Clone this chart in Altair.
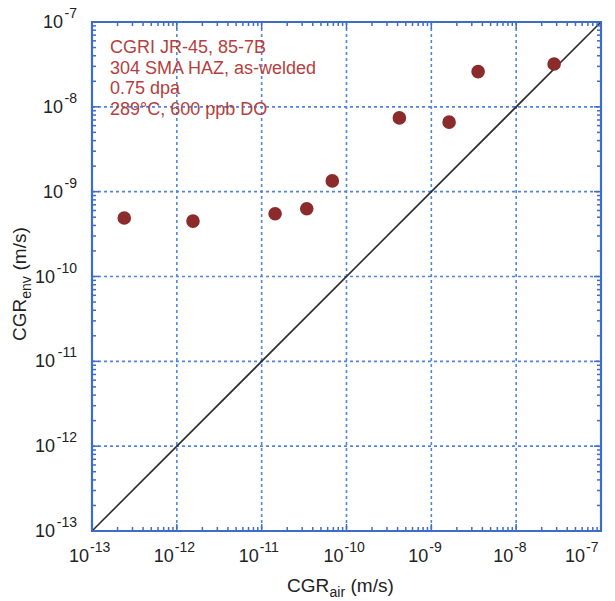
import altair as alt
import pandas as pd

# ---- data ----
cgr_air = [2.4e-13, 1.55e-12, 1.44e-11, 3.4e-11, 6.8e-11, 4.2e-10, 1.62e-9, 3.56e-9, 2.8e-8]
cgr_env = [4.9e-10, 4.5e-10, 5.5e-10, 6.3e-10, 1.34e-9, 7.4e-9, 6.6e-9, 2.6e-8, 3.2e-8]
decade_exps = [-13, -12, -11, -10, -9, -8, -7]
annotation = ["CGRI JR-45, 85-7B", "304 SMA HAZ, as-welded", "0.75 dpa", "289°C, 600 ppb DO"]
line_ends = [1e-13, 1e-7]
minor_mult = [2, 3, 4, 5, 6, 7, 8, 9]

W = H = 509
FONT = "Liberation Sans"
BLUE = "#3d6dc8"
GRID = "#4f86dc"
RED_TXT = "#b53f40"
PT = "#8c2b2b"

pts = pd.DataFrame({"x": cgr_air, "y": cgr_env})
diag = pd.DataFrame({"x": line_ends, "y": line_ends})
dec = pd.DataFrame({"e": decade_exps, "v": [10.0 ** e for e in decade_exps]})
dec["lab"] = dec["e"].astype(str)
dec["n"] = dec["lab"].str.len()
inner = dec[(dec.e > -13) & (dec.e < -7)]
minor = pd.DataFrame({"v": [m * 10.0 ** e for e in decade_exps[:-1] for m in minor_mult]})

sc = alt.Scale(type="log", domain=[1e-13, 1e-7], nice=False)
Xv = alt.X("v:Q", scale=sc, axis=None)
Yv = alt.Y("v:Q", scale=sc, axis=None)

layers = []
# grid
layers.append(alt.Chart(inner).mark_rule(color=GRID, strokeWidth=1.6, strokeDash=[3, 3]).encode(
    x=Xv, y=alt.value(0), y2=alt.value(H)))
layers.append(alt.Chart(inner).mark_rule(color=GRID, strokeWidth=1.6, strokeDash=[3, 3]).encode(
    y=Yv, x=alt.value(0), x2=alt.value(W)))
# diagonal 1:1 line
layers.append(alt.Chart(diag).mark_line(color="#2b2b2b", strokeWidth=1.6).encode(
    x=alt.X("x:Q", scale=sc, axis=None), y=alt.Y("y:Q", scale=sc, axis=None)))
# points
layers.append(alt.Chart(pts).mark_circle(color=PT, opacity=1, size=185).encode(
    x=alt.X("x:Q", scale=sc, axis=None), y=alt.Y("y:Q", scale=sc, axis=None)))

# inward ticks on all four sides
for df, L in [(minor, 4), (dec, 7)]:
    layers.append(alt.Chart(df).mark_rule(color=BLUE, strokeWidth=1.5).encode(
        x=Xv, y=alt.value(H), y2=alt.value(H - L)))
    layers.append(alt.Chart(df).mark_rule(color=BLUE, strokeWidth=1.5).encode(
        x=Xv, y=alt.value(0), y2=alt.value(L)))
    layers.append(alt.Chart(df).mark_rule(color=BLUE, strokeWidth=1.5).encode(
        y=Yv, x=alt.value(0), x2=alt.value(L)))
    layers.append(alt.Chart(df).mark_rule(color=BLUE, strokeWidth=1.5).encode(
        y=Yv, x=alt.value(W), x2=alt.value(W - L)))

# x tick labels (10 with superscript exponent)
xl_main = dec[dec.e < -7]
xl_last = dec[dec.e == -7]
layers.append(alt.Chart(xl_main).mark_text(font=FONT, fontSize=18, align="right", baseline="alphabetic", dx=-3, color="#222").encode(
    x=Xv, y=alt.value(H + 31), text=alt.value("10")))
layers.append(alt.Chart(xl_main).mark_text(font=FONT, fontSize=14, align="left", baseline="alphabetic", dx=-2, color="#222").encode(
    x=Xv, y=alt.value(H + 21), text="lab:N"))
layers.append(alt.Chart(xl_last).mark_text(font=FONT, fontSize=18, align="right", baseline="alphabetic", dx=-16, color="#222").encode(
    x=Xv, y=alt.value(H + 31), text=alt.value("10")))
layers.append(alt.Chart(xl_last).mark_text(font=FONT, fontSize=14, align="left", baseline="alphabetic", dx=-15, color="#222").encode(
    x=Xv, y=alt.value(H + 21), text="lab:N"))

# y tick labels
for n, off in [(2, -29), (3, -37)]:
    sub = dec[dec.n == n]
    layers.append(alt.Chart(sub).mark_text(font=FONT, fontSize=18, align="right", baseline="alphabetic", dy=6, color="#222").encode(
        y=Yv, x=alt.value(off), text=alt.value("10")))
    layers.append(alt.Chart(sub).mark_text(font=FONT, fontSize=14, align="right", baseline="alphabetic", dy=-4, color="#222").encode(
        y=Yv, x=alt.value(-15), text="lab:N"))

# annotation
ann = pd.DataFrame({"t": ["\n".join(annotation)]})
layers.append(alt.Chart(ann).mark_text(font=FONT, fontSize=18, align="left", baseline="alphabetic",
                                       lineBreak="\n", lineHeight=20.7, color=RED_TXT).encode(
    x=alt.value(18), y=alt.value(31), text="t:N"))

# axis titles
one = pd.DataFrame({"k": [0]})
def txt(s, x, y, size, angle=0):
    kw = dict(font=FONT, fontSize=size, align="left", baseline="alphabetic", color="#222")
    if angle:
        kw["angle"] = angle
    return alt.Chart(one).mark_text(**kw).encode(x=alt.value(x), y=alt.value(y), text=alt.value(s))

layers += [
    txt("CGR", 195, H + 61, 19),
    txt("air", 237.5, H + 66, 14),
    txt("(m/s)", 258.5, H + 61, 19),
    txt("CGR", -66, 319, 19, 270),
    txt("env", -61, 276.8, 14, 270),
    txt("(m/s)", -66, 248.5, 19, 270),
]

chart = alt.layer(*layers).properties(
    width=W, height=H,
    autosize=alt.AutoSizeParams(type="none"),
    padding={"left": 92, "top": 22, "right": 14, "bottom": 70},
).configure_view(stroke=BLUE, strokeWidth=2.2)

chart.save("out.html", embed_options={"renderer": "svg", "actions": False})
